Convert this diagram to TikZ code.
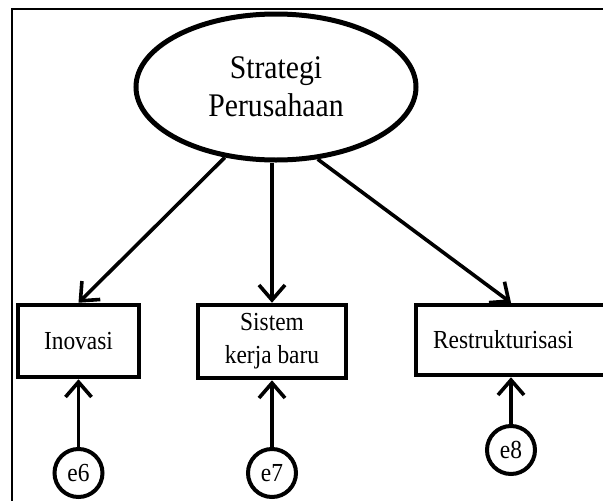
\documentclass[tikz,border=0pt]{standalone}
\usepackage{fontspec}
\setmainfont{Liberation Serif}[FakeStretch=0.9]
\usetikzlibrary{arrows.meta,shapes.geometric}
\begin{document}
\begin{tikzpicture}[x=1pt,y=-1pt,
  latent/.style={draw, ellipse, line width=5pt, minimum width=280pt,
    minimum height=146pt, inner sep=0pt, align=center,
    font=\fontsize{33}{38}\selectfont},
  observed/.style={draw, rectangle, line width=4.5pt, inner sep=0pt,
    align=center, font=\fontsize{26}{33}\selectfont},
  errorterm/.style={draw, circle, line width=4pt, minimum size=48pt,
    inner sep=0pt, font=\fontsize{26}{30}\selectfont},
  effect/.style={line width=3.6pt,
    -{Straight Barb[length=15pt,width=26pt,line width=3.6pt]}},
  frameline/.style={line width=1.8pt}]
\useasboundingbox (0,0) rectangle (603,501);
\clip (0,0) rectangle (603,501);

% outer frame
\draw[frameline] (12,501) -- (12,9) -- (603,9);

% latent construct
\node[latent] (S) at (276,87) {Strategi\\Perusahaan};

% indicators
\node[observed, minimum width=121pt, minimum height=72pt] (A) at (78.5,341) {Inovasi};
\node[observed, minimum width=148pt, minimum height=73pt] (B) at (272,341.5) {Sistem\\kerja baru};
\node[observed, minimum width=190pt, minimum height=70pt, text width=156pt,
  align=left, inner xsep=17pt] (R) at (511,340) {Restrukturisasi};

% error terms
\node[errorterm] (e6) at (78.5,473) {e6};
\node[errorterm] (e7) at (272,473) {e7};
\node[errorterm] (e8) at (511,450) {e8};

% loadings
\draw[effect] (S.234) -- (A.north);
\draw[effect] (S.south -| B.north) -- (B.north);
\draw[effect] (S.300) -- (R.north);

% errors
\draw[effect] (e6) -- (A);
\draw[effect] (e7) -- (B);
\draw[effect] (e8) -- (R);
\end{tikzpicture}
\end{document}
